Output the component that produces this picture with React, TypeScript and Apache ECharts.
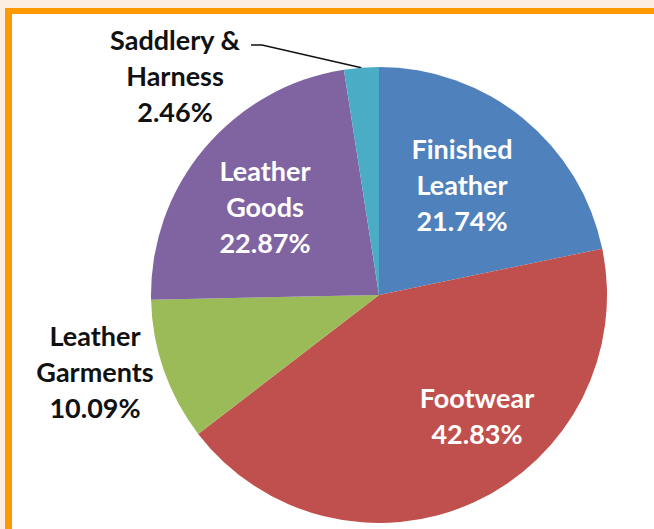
import React, { useEffect, useRef } from "react";
import * as echarts from "echarts";

// ---- data ----
const categories = [
  "Finished Leather",
  "Footwear",
  "Leather Garments",
  "Leather Goods",
  "Saddlery & Harness",
];
const labelNames = [
  "Finished\nLeather",
  "Footwear",
  "Leather\nGarments",
  "Leather\nGoods",
  "Saddlery &\nHarness",
];
const shares = [21.74, 42.83, 10.09, 22.87, 2.46];

// ---- styles / layout ----
const COLORS = ["#4f81bd", "#c0504d", "#9bbb59", "#8064a2", "#4bacc6"];
const INSIDE = [true, true, false, true, false];
const LABEL_POS: number[][] = [
  [462, 184],
  [477, 415],
  [95, 371],
  [265, 206],
  [175, 75],
];
const LEADER_BEND: Record<number, number[][]> = {
  4: [
    [262, 45],
    [251, 45],
  ],
};

export default function App() {
  const ref = useRef<HTMLDivElement>(null);
  useEffect(() => {
    if (!ref.current) return;
    const chart = echarts.init(ref.current, undefined, { renderer: "svg" });
    const data = categories.map((name, i) => ({
      name,
      value: shares[i],
      itemStyle: { color: COLORS[i] },
      label: {
        position: INSIDE[i] ? "inside" : "outside",
        color: INSIDE[i] ? "#ffffff" : "#111111",
      },
      labelLine: { show: i === 4 },
    }));
    chart.setOption({
      animation: false,
      backgroundColor: "#fdeee2",
      graphic: [
        {
          type: "rect",
          z: 0,
          shape: { x: 5, y: 8, width: 660, height: 540 },
          style: { fill: "#ff9900" },
        },
        {
          type: "rect",
          z: 0,
          shape: { x: 12, y: 14, width: 660, height: 540 },
          style: { fill: "#ffffff" },
        },
      ],
      series: [
        {
          type: "pie",
          z: 2,
          center: [379, 295],
          radius: 228,
          startAngle: 90,
          clockwise: true,
          avoidLabelOverlap: false,
          itemStyle: { borderWidth: 0 },
          label: {
            show: true,
            fontFamily: "Lato",
            fontWeight: "bold",
            fontSize: 27,
            lineHeight: 36,
            align: "center",
            formatter: (p: any) =>
              labelNames[p.dataIndex] + "\n" + Number(p.value).toFixed(2) + "%",
          },
          labelLine: {
            lineStyle: { color: "#111111", width: 1.5 },
          },
          labelLayout: (p: any) => {
            const pos = LABEL_POS[p.dataIndex];
            const out: any = {
              x: pos[0],
              y: pos[1],
              align: "center",
              verticalAlign: "middle",
            };
            const bend = LEADER_BEND[p.dataIndex];
            if (bend && p.labelLinePoints) {
              out.labelLinePoints = [p.labelLinePoints[0], bend[0], bend[1]];
            }
            return out;
          },
          data,
        },
      ],
    });
    return () => chart.dispose();
  }, []);
  return (
    <div
      ref={ref}
      style={{ position: "fixed", left: 0, top: 0, width: 654, height: 529 }}
    />
  );
}
